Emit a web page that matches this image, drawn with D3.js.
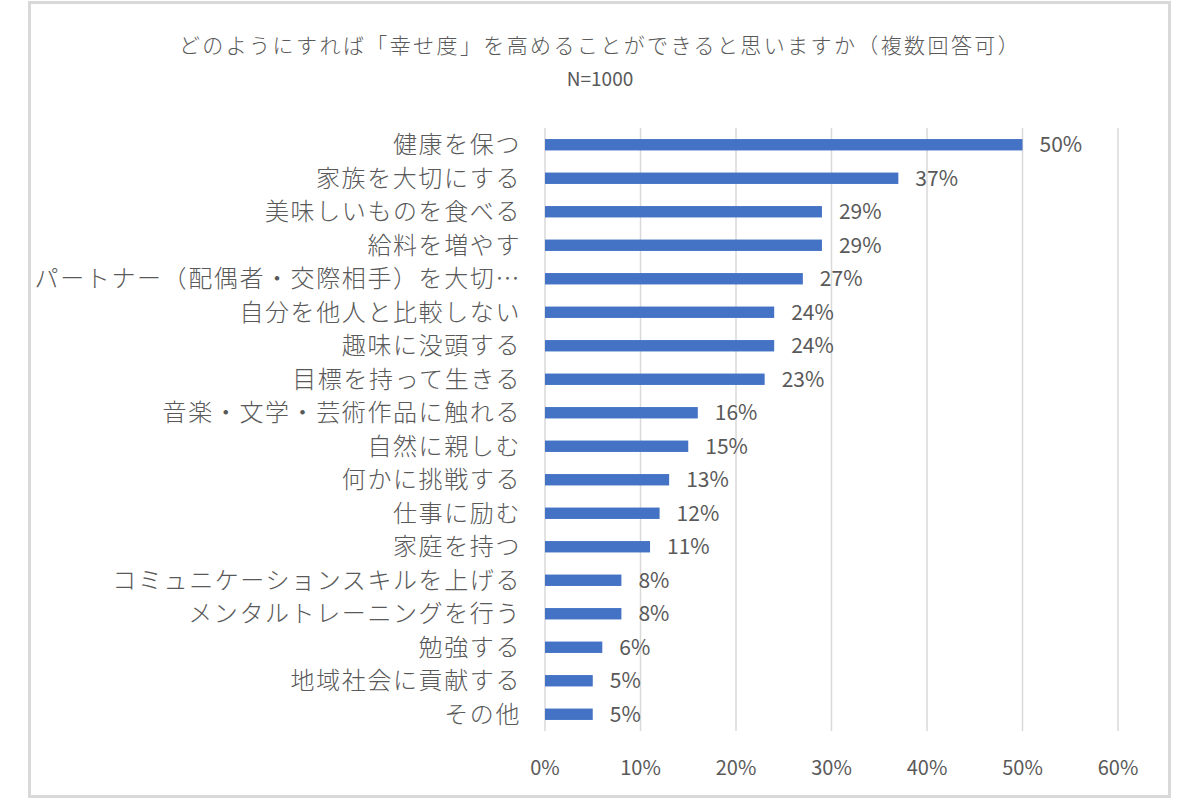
<!DOCTYPE html>
<html>
<head>
<meta charset="utf-8">
<script src="https://cdn.jsdelivr.net/npm/d3@7"></script>
<style>
  body { margin: 0; background: #fff; }
  text { font-family: "Noto Sans CJK JP", "Noto Sans", sans-serif; fill: #595959; }
</style>
</head>
<body>
<svg id="chart"></svg>
<script>
// data
const categories = [
  "健康を保つ", "家族を大切にする", "美味しいものを食べる", "給料を増やす",
  "パートナー（配偶者・交際相手）を大切…", "自分を他人と比較しない", "趣味に没頭する",
  "目標を持って生きる", "音楽・文学・芸術作品に触れる", "自然に親しむ", "何かに挑戦する",
  "仕事に励む", "家庭を持つ", "コミュニケーションスキルを上げる", "メンタルトレーニングを行う",
  "勉強する", "地域社会に貢献する", "その他"
];
const values = [50, 37, 29, 29, 27, 24, 24, 23, 16, 15, 13, 12, 11, 8, 8, 6, 5, 5];
const xTicks = [0, 10, 20, 30, 40, 50, 60];
const titleText = "どのようにすれば「幸せ度」を高めることができると思いますか（複数回答可）";
const subtitleText = "N=1000";

const width = 1200;
const height = 800;
const margin = { top: 128, left: 545 };
const plotW = 573;
const plotH = 603;

const svg = d3.select("#chart").attr("width", width).attr("height", height);

// outer frame
svg.append("rect")
  .attr("x", 29.5).attr("y", 2.5)
  .attr("width", 1140).attr("height", 794)
  .attr("fill", "#fff")
  .attr("stroke", "#d9d9d9")
  .attr("stroke-width", 3);

svg.append("text")
  .attr("x", 600).attr("y", 53)
  .attr("text-anchor", "middle")
  .style("font-size", "21px")
  .style("font-weight", 300)
  .style("letter-spacing", "2.4px")
  .text(titleText);

svg.append("text")
  .attr("x", 600).attr("y", 86)
  .attr("text-anchor", "middle")
  .style("font-size", "19px")
  .text(subtitleText);

const g = svg.append("g")
  .attr("transform", `translate(${margin.left},${margin.top})`);

const x = d3.scaleLinear().domain([0, 60]).range([0, plotW]);
const y = d3.scaleBand().domain(categories).range([0, plotH]).paddingInner(0.66).paddingOuter(0.33);

// gridlines
g.selectAll("line.grid")
  .data(xTicks)
  .enter()
  .append("line")
  .attr("class", "grid")
  .attr("x1", (d) => x(d))
  .attr("x2", (d) => x(d))
  .attr("y1", 0)
  .attr("y2", plotH)
  .attr("stroke", "#d9d9d9")
  .attr("stroke-width", 1.5);

// tick labels
g.selectAll("text.tick")
  .data(xTicks)
  .enter()
  .append("text")
  .attr("class", "tick")
  .attr("x", (d) => x(d))
  .attr("y", 647)
  .attr("text-anchor", "middle")
  .style("font-size", "20px")
  .text((d) => d + "%");

// bars
g.selectAll("rect.bar")
  .data(values)
  .enter()
  .append("rect")
  .attr("class", "bar")
  .attr("x", 0)
  .attr("y", (d, i) => y(categories[i]))
  .attr("width", (d) => x(d))
  .attr("height", y.bandwidth())
  .attr("fill", "#4472c4");

// value labels
g.selectAll("text.val")
  .data(values)
  .enter()
  .append("text")
  .attr("class", "val")
  .attr("x", (d) => x(d) + 17)
  .attr("y", (d, i) => y(categories[i]) + y.bandwidth() / 2)
  .attr("dy", "0.36em")
  .style("font-size", "21px")
  .text((d) => d + "%");

// category labels
g.selectAll("text.cat")
  .data(categories)
  .enter()
  .append("text")
  .attr("class", "cat")
  .attr("x", -24)
  .attr("y", (d) => y(d) + y.bandwidth() / 2)
  .attr("dy", "0.36em")
  .attr("text-anchor", "end")
  .style("font-size", "24px")
  .style("font-weight", 300)
  .style("letter-spacing", "1.6px")
  .text((d) => d);
</script>
</body>
</html>
